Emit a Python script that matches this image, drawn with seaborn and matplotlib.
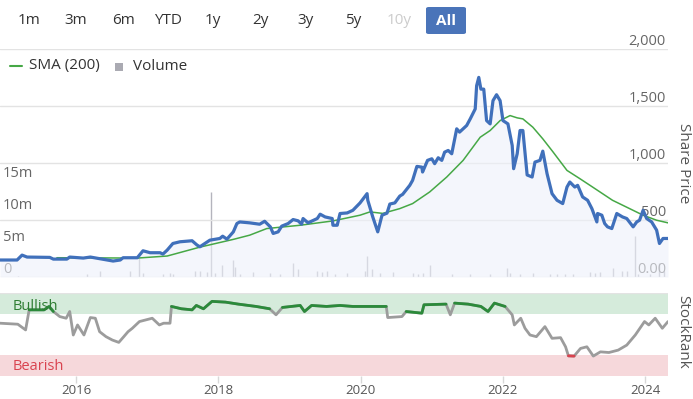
import numpy as np
import pandas as pd
import matplotlib
matplotlib.use('Agg')
import matplotlib.pyplot as plt
import seaborn as sns
from matplotlib.patches import FancyBboxPatch, Rectangle
from matplotlib.lines import Line2D

sns.set_theme(style='white')
plt.rcParams['font.family'] = ['Open Sans', 'DejaVu Sans']

# share price (decimal years, price)
price_dates = [2014.93, 2015.17, 2015.24, 2015.31, 2015.63, 2015.68, 2015.87, 2015.91, 2016.10, 2016.20,
               2016.34, 2016.52, 2016.62, 2016.66, 2016.86, 2016.94, 2017.04, 2017.18, 2017.22, 2017.28,
               2017.36, 2017.46, 2017.63, 2017.70, 2017.74, 2017.88, 2018.02, 2018.06, 2018.12, 2018.21,
               2018.26, 2018.30, 2018.44, 2018.58, 2018.65, 2018.73, 2018.77, 2018.84, 2018.89, 2018.98,
               2019.05, 2019.12, 2019.17, 2019.19, 2019.26, 2019.39, 2019.43, 2019.50, 2019.60, 2019.61,
               2019.67, 2019.71, 2019.81, 2019.89, 2019.99, 2020.09, 2020.10, 2020.17, 2020.24, 2020.30,
               2020.37, 2020.41, 2020.48, 2020.55, 2020.59, 2020.69, 2020.73, 2020.79, 2020.86, 2020.87,
               2020.94, 2021.00, 2021.04, 2021.09, 2021.14, 2021.18, 2021.23, 2021.28, 2021.35, 2021.39,
               2021.49, 2021.54, 2021.61, 2021.63, 2021.66, 2021.69, 2021.73, 2021.77, 2021.82, 2021.86,
               2021.91, 2021.96, 2022.00, 2022.07, 2022.13, 2022.15, 2022.20, 2022.24, 2022.28, 2022.34,
               2022.41, 2022.45, 2022.52, 2022.56, 2022.62, 2022.69, 2022.76, 2022.84, 2022.90, 2022.94,
               2023.01, 2023.05, 2023.12, 2023.19, 2023.25, 2023.32, 2023.33, 2023.39, 2023.43, 2023.47,
               2023.53, 2023.60, 2023.68, 2023.74, 2023.83, 2023.88, 2023.92, 2023.97, 2024.02, 2024.09,
               2024.16, 2024.20, 2024.25, 2024.32]
price_vals = [149, 149, 192, 175, 172, 157, 157, 175, 166, 175,
              160, 140, 149, 169, 169, 230, 213, 213, 201, 236,
              294, 309, 318, 280, 265, 323, 338, 358, 332, 396,
              469, 483, 475, 463, 489, 440, 382, 396, 446, 469,
              504, 493, 463, 513, 475, 513, 551, 527, 513, 454,
              454, 557, 562, 585, 649, 731, 673, 527, 396, 542,
              560, 640, 650, 710, 725, 804, 848, 970, 964, 921,
              1023, 1037, 994, 1046, 1023, 1095, 1110, 1081, 1300, 1271,
              1329, 1387, 1474, 1678, 1751, 1648, 1648, 1372, 1343, 1547,
              1599, 1547, 1372, 1343, 1154, 950, 1081, 1285, 1285, 895,
              877, 1008, 1023, 1104, 906, 731, 673, 644, 789, 833,
              789, 804, 702, 673, 600, 483, 557, 542, 469, 440,
              425, 557, 527, 513, 440, 483, 498, 585, 513, 483,
              411, 294, 338, 338]

sma_dates = [2015.73, 2016.86, 2017.28, 2017.74, 2018.21, 2018.44, 2018.68, 2019.15, 2019.61, 2019.99,
             2020.13, 2020.31, 2020.55, 2020.73, 2020.97, 2021.21, 2021.44, 2021.68, 2021.82, 2021.96,
             2022.10, 2022.20, 2022.28, 2022.42, 2022.56, 2022.70, 2022.90, 2023.08, 2023.26, 2023.54,
             2023.78, 2023.97, 2024.16, 2024.32]
sma_vals = [169, 166, 184, 262, 330, 367, 425, 454, 492, 542,
            571, 558, 600, 644, 746, 877, 1023, 1226, 1285, 1372,
            1416, 1396, 1387, 1314, 1212, 1100, 935, 863, 789, 673,
            600, 542, 498, 475]

# volume in millions
vol_dates = [2015.18, 2016.15, 2016.34, 2016.76, 2016.88, 2016.94, 2017.22, 2017.32, 2017.36, 2017.67,
             2017.74, 2017.84, 2017.90, 2017.95, 2018.05, 2018.20, 2018.23, 2018.30, 2018.49, 2018.72,
             2018.87, 2019.05, 2019.12, 2019.39, 2019.46, 2019.53, 2019.64, 2019.81, 2020.06, 2020.09,
             2020.16, 2020.27, 2020.45, 2020.73, 2020.80, 2020.87, 2020.97, 2021.28, 2021.54, 2021.82,
             2022.05, 2022.10, 2022.24, 2022.42, 2022.66, 2022.76, 2022.87, 2022.98, 2023.22, 2023.29,
             2023.36, 2023.54, 2023.68, 2023.75, 2023.85, 2023.90, 2024.06, 2024.20, 2024.27]
vol_vals = [0.2, 0.5, 0.9, 0.9, 3.0, 0.7, 0.5, 0.6, 0.5, 1.0,
            0.9, 0.8, 13.3, 0.7, 1.9, 2.6, 1.6, 0.5, 0.8, 0.6,
            0.4, 2.2, 1.3, 1.0, 0.8, 1.0, 0.5, 0.6, 1.0, 3.3,
            1.3, 0.6, 0.8, 0.6, 0.5, 0.6, 1.8, 0.5, 0.4, 0.4,
            1.4, 0.7, 0.4, 0.6, 0.5, 0.5, 0.4, 0.4, 0.8, 0.7,
            0.8, 1.4, 0.9, 0.9, 6.4, 0.5, 0.4, 2.2, 1.0]

# StockRank
rank_dates = [2014.93, 2015.18, 2015.29, 2015.34, 2015.55, 2015.62, 2015.68, 2015.77, 2015.86, 2015.91,
              2015.96, 2016.02, 2016.11, 2016.20, 2016.27, 2016.33, 2016.42, 2016.51, 2016.60, 2016.67,
              2016.73, 2016.79, 2016.89, 2016.98, 2017.07, 2017.17, 2017.23, 2017.32, 2017.34, 2017.48,
              2017.63, 2017.69, 2017.79, 2017.91, 2018.10, 2018.28, 2018.53, 2018.72, 2018.81, 2018.90,
              2019.15, 2019.21, 2019.31, 2019.52, 2019.71, 2019.89, 2020.27, 2020.36, 2020.38, 2020.58,
              2020.64, 2020.86, 2020.89, 2021.20, 2021.26, 2021.32, 2021.51, 2021.69, 2021.79, 2021.88,
              2022.03, 2022.13, 2022.16, 2022.25, 2022.31, 2022.38, 2022.47, 2022.59, 2022.69, 2022.81,
              2022.88, 2022.92, 2023.00, 2023.09, 2023.18, 2023.27, 2023.37, 2023.49, 2023.62, 2023.74,
              2023.86, 2023.99, 2024.05, 2024.14, 2024.24, 2024.32]
rank_vals = [63.6, 62.4, 55.5, 79.7, 79.7, 83.8, 77.7, 71.6, 69.6, 77.7,
             49.4, 61.5, 49.4, 70.4, 69.6, 53.4, 47.4, 43.3, 40.5, 47.4,
             53.4, 57.5, 65.6, 67.6, 69.6, 61.5, 63.6, 63.6, 83.8, 81.0,
             79.7, 85.0, 81.0, 89.9, 89.0, 86.6, 83.8, 81.0, 73.7, 82.6,
             85.0, 77.7, 85.0, 83.8, 85.0, 83.8, 83.8, 83.8, 70.4, 71.6,
             77.7, 75.7, 85.8, 86.6, 73.7, 87.8, 86.6, 83.8, 77.7, 87.8,
             83.8, 73.7, 61.5, 69.6, 57.5, 49.4, 47.4, 59.5, 45.4, 46.2,
             35.2, 24.3, 24.0, 33.2, 35.2, 24.0, 29.1, 28.3, 31.2, 37.2,
             49.4, 65.6, 61.5, 69.6, 57.5, 65.6]

price = pd.DataFrame({'date': price_dates, 'price': price_vals})
sma = pd.DataFrame({'date': sma_dates, 'sma': sma_vals})
vol = pd.DataFrame({'date': vol_dates, 'volume': np.array(vol_vals) * 1e6})
rank = pd.DataFrame({'date': rank_dates, 'rank': rank_vals})
rank['bull'] = rank['rank'].where(rank['rank'] >= 75)
rank['bear'] = rank['rank'].where(rank['rank'] <= 25)

W, H = 693, 399
fig = plt.figure(figsize=(W / 100, H / 100), dpi=100)
fig.patch.set_facecolor('white')


def box(x0, y0, x1, y1):
    return [x0 / W, 1 - y1 / H, (x1 - x0) / W, (y1 - y0) / H]


xlim = (2014.93, 2024.32)
txt = '#666666'

# main panel: volume behind, price on twin axis
ax_vol = fig.add_axes(box(0, 49, 668, 277))
ax_vol.vlines(vol['date'], 0, vol['volume'], color='#b4b4bd', lw=1)
ax_vol.set_ylim(0, 35.6e6)
ax_vol.set_xlim(*xlim)
ax_vol.set_yticks([0, 5e6, 10e6, 15e6])
ax_vol.set_yticklabels(['0', '5m', '10m', '15m'])
ax_vol.tick_params(axis='y', length=0, pad=-2, labelsize=10.5, labelcolor=txt)
for lbl in ax_vol.get_yticklabels():
    lbl.set_ha('left')
    lbl.set_va('bottom')
ax_vol.set_xticks([])
for s in ax_vol.spines.values():
    s.set_visible(False)

ax = ax_vol.twinx()
ax.fill_between(price['date'], price['price'], color='#eef1fa', alpha=0.6, lw=0)
sns.lineplot(data=sma, x='date', y='sma', ax=ax, color='#46a846', lw=1.1)
sns.lineplot(data=price, x='date', y='price', ax=ax, color='#4070bb', lw=2.3)
ax.set_ylim(0, 2000)
ax.set_xlim(*xlim)
ax.set_yticks([0, 500, 1000, 1500, 2000])
ax.set_yticklabels(['0.00', '500', '1,000', '1,500', '2,000'])
ax.yaxis.grid(True, color='#e3e3e3', lw=1)
ax.set_axisbelow(True)
ax.tick_params(axis='y', length=0, pad=-1.5, labelsize=10.5, labelcolor=txt)
for lbl in ax.get_yticklabels():
    lbl.set_ha('right')
    lbl.set_va('bottom')
ax.set_xlabel('')
ax.set_ylabel('')
ax.set_xticks([])
for s in ax.spines.values():
    s.set_visible(False)

# StockRank panel
ax_r = fig.add_axes(box(0, 293, 668, 376))
ax_r.axhspan(75, 100, color='#d5ebdb', lw=0)
ax_r.axhspan(0, 25, color='#f6d8db', lw=0)
ax_r.axhline(100, color='#e3e3e3', lw=1)
sns.lineplot(data=rank, x='date', y='rank', ax=ax_r, color='#9c9c9c', lw=2)
ax_r.plot(rank['date'], rank['bull'], color='#2b8a3a', lw=2)
ax_r.plot(rank['date'], rank['bear'], color='#d9434f', lw=2)
ax_r.set_ylim(0, 100)
ax_r.set_xlim(*xlim)
ax_r.set_yticks([0])
ax_r.set_yticklabels(['0'])
ax_r.yaxis.tick_right()
ax_r.tick_params(axis='y', length=0, pad=-1.5, labelsize=10.5, labelcolor=txt)
for lbl in ax_r.get_yticklabels():
    lbl.set_ha('right')
    lbl.set_va('bottom')
ax_r.set_xticks([2016, 2018, 2020, 2022, 2024])
ax_r.set_xticklabels(['2016', '2018', '2020', '2022', '2024'])
ax_r.tick_params(axis='x', bottom=True, length=5, width=1, color='#d8d8d8', pad=0.5,
                 labelsize=9.5, labelcolor='#555555')
ax_r.set_xlabel('')
ax_r.set_ylabel('')
for s in ax_r.spines.values():
    s.set_visible(False)

fig.text(13 / W, 1 - 306 / H, 'Bullish', color='#2e7d32', fontsize=10.5, va='center')
fig.text(13 / W, 1 - 366 / H, 'Bearish', color='#d9434f', fontsize=10.5, va='center')

# axis titles
fig.text(683 / W, 1 - 163 / H, 'Share Price', rotation=270, ha='center', va='center',
         fontsize=11, color='#555555')
fig.text(683 / W, 1 - 332 / H, 'StockRank', rotation=270, ha='center', va='center',
         fontsize=11, color='#555555')

# range buttons
buttons = ['1m', '3m', '6m', 'YTD', '1y', '2y', '3y', '5y', '10y']
btn_x = [29, 76, 123, 168, 213, 260, 306, 353, 399]
for b, bx in zip(buttons, btn_x):
    fig.text(bx / W, 1 - 21 / H, b, ha='center', va='center', fontsize=11,
             color='#cccccc' if b == '10y' else '#333333')
fig.add_artist(FancyBboxPatch((426 / W, 1 - 34 / H), 40 / W, 27 / H,
                              boxstyle='round,pad=0,rounding_size=0.004',
                              transform=fig.transFigure, fc='#4a74b9', ec='none'))
fig.text(446 / W, 1 - 21 / H, 'All', ha='center', va='center', fontsize=11,
         color='white', fontweight='bold')

# legend
fig.add_artist(Line2D([10 / W, 22 / W], [1 - 66 / H, 1 - 66 / H], color='#46a846', lw=1.5,
                      transform=fig.transFigure))
fig.text(29 / W, 1 - 66 / H, 'SMA (200)', va='center', fontsize=11, color='#333333')
fig.add_artist(Rectangle((115 / W, 1 - 71 / H), 8 / W, 8 / H, transform=fig.transFigure,
                         fc='#aaaab2', ec='none'))
fig.text(133 / W, 1 - 66 / H, 'Volume', va='center', fontsize=11, color='#333333')

fig.savefig('out.png', dpi=100, facecolor='white')
